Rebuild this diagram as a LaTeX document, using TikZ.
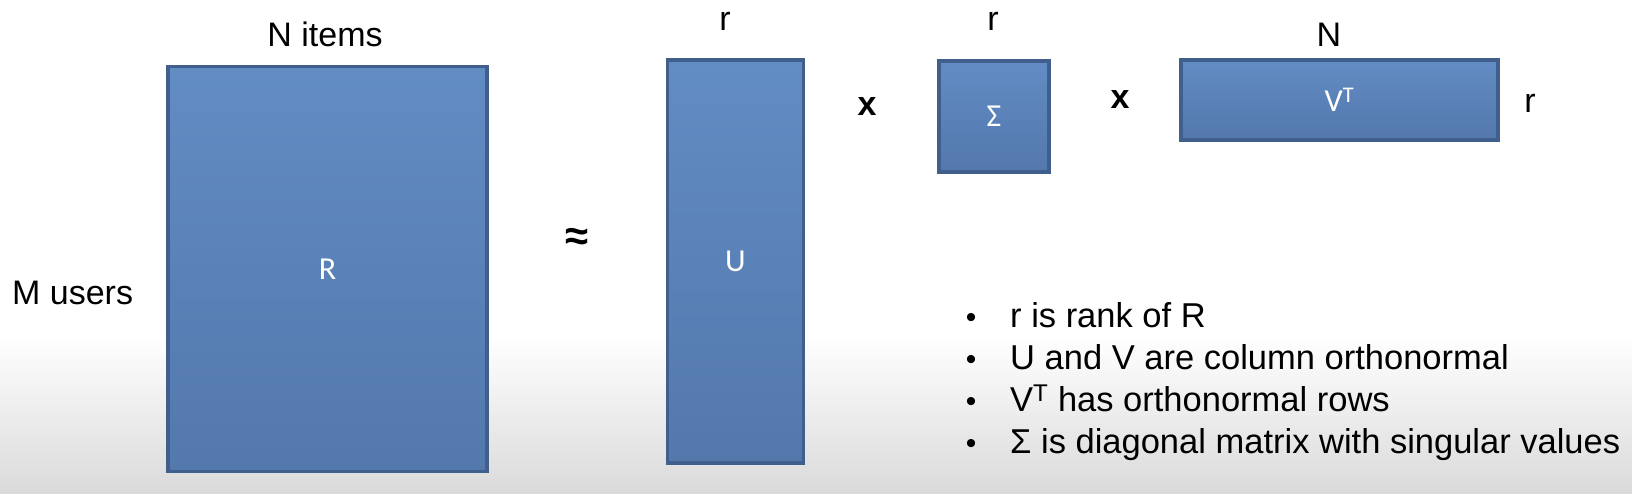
\documentclass[tikz,border=0pt]{standalone}
\usepackage{fontspec}
\setmainfont{Liberation Sans}
\newfontfamily\calib{Carlito}
\definecolor{boxtop}{RGB}{98,140,196}
\definecolor{boxmid}{RGB}{96,137,193}
\definecolor{boxbot}{RGB}{83,120,172}
\definecolor{boxline}{RGB}{64,95,141}
\definecolor{bgbot}{RGB}{218,218,218}
\begin{document}
\begin{tikzpicture}[x=1pt,y=-1pt,
  mat/.style={draw=boxline, line width=3.5pt, top color=boxtop, middle color=boxmid, bottom color=boxbot,
    inner sep=0pt, text=white, font=\calib\fontsize{32}{36}\selectfont},
  lbl/.style={inner sep=0pt, font=\fontsize{34}{40}\selectfont},
  op/.style={inner sep=0pt, font=\bfseries\fontsize{34}{40}\selectfont},
  bul/.style={inner sep=0pt, anchor=base west, font=\fontsize{34.5}{40}\selectfont},
  dot/.style={inner sep=0pt, anchor=base, font=\fontsize{30}{40}\selectfont}]
\useasboundingbox (0,0) rectangle (1632,494);
\fill[white] (0,0) rectangle (1632,494);
\shade[top color=white, bottom color=bgbot] (0,335) rectangle (1632,494);

% matrices
\node[mat, minimum width=319pt, minimum height=405pt] (R) at (327.5,269) {R};
\node[mat, minimum width=136pt, minimum height=403pt] (U) at (735.5,261.5) {U};
\node[mat, minimum width=110pt, minimum height=111pt] (S) at (994,116.5) {Σ};
\node[mat, minimum width=317pt, minimum height=80pt] (VT) at (1339.5,100) {V\textsuperscript{T}};

% dimension labels
\node[lbl] (nitems) at (325,34) {N items};
\node[lbl, anchor=west] (musers) at (12,293) {M users};
\node[lbl] (rU) at (725,21) {r};
\node[lbl] (rS) at (993,21) {r};
\node[lbl] (nV) at (1329,35) {N};
\node[lbl] (rV) at (1530,103) {r};

% operators
\node[op, font=\bfseries\fontsize{42}{44}\selectfont] (approx) at (577,239) {≈};
\node[op] (times1) at (867,107) {x};
\node[op] (times2) at (1120,100) {x};

% bullet list
\node[dot] (d1) at (971,327) {•};
\node[dot] (d2) at (971,369) {•};
\node[dot] (d3) at (971,411) {•};
\node[dot] (d4) at (971,453) {•};
\node[bul] (b1) at (1010,327) {r is rank of R};
\node[bul] (b2) at (1010,369) {U and V are column orthonormal};
\node[bul] (b3) at (1010,411) {V\textsuperscript{T} has orthonormal rows};
\node[bul] (b4) at (1010,453) {Σ is diagonal matrix with singular values};
\end{tikzpicture}
\end{document}
